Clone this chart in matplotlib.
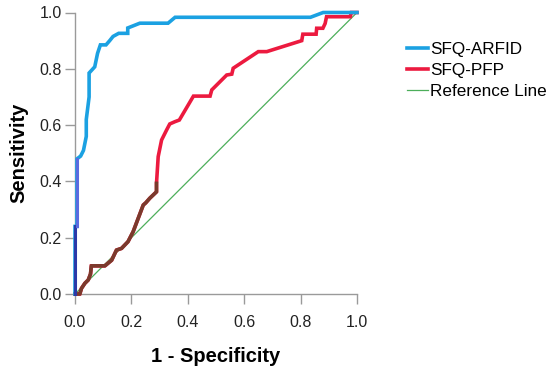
import matplotlib
matplotlib.use("Agg")
import matplotlib.pyplot as plt

plt.rcParams['font.family'] = ['Liberation Sans', 'DejaVu Sans']

# ROC curve points (1 - specificity, sensitivity)
arfid_x = [0.0, 0.0, 0.007, 0.007, 0.02, 0.03, 0.04, 0.04, 0.05, 0.05, 0.07, 0.08, 0.09, 0.11,
           0.123, 0.135, 0.155, 0.187, 0.187, 0.23, 0.33, 0.355, 0.835, 0.88, 1.0]
arfid_y = [0.0, 0.24, 0.24, 0.48, 0.49, 0.51, 0.56, 0.62, 0.70, 0.785, 0.807, 0.855, 0.885, 0.885,
           0.90, 0.915, 0.926, 0.926, 0.945, 0.962, 0.962, 0.983, 0.983, 1.0, 1.0]

pfp_x = [0.0, 0.017, 0.023, 0.035, 0.047, 0.055, 0.058, 0.106, 0.13, 0.147, 0.165, 0.188, 0.206,
         0.242, 0.251, 0.265, 0.289, 0.289, 0.295, 0.307, 0.325, 0.336, 0.354, 0.37, 0.42, 0.479,
         0.485, 0.538, 0.556, 0.561, 0.65, 0.68, 0.804, 0.808, 0.855, 0.857, 0.879, 0.887, 0.892,
         0.976, 0.98, 1.0]
pfp_y = [0.0, 0.0, 0.02, 0.038, 0.05, 0.071, 0.10, 0.10, 0.12, 0.156, 0.162, 0.186, 0.221,
         0.316, 0.324, 0.34, 0.363, 0.393, 0.488, 0.547, 0.583, 0.604, 0.612, 0.618, 0.703, 0.703,
         0.725, 0.778, 0.781, 0.802, 0.861, 0.861, 0.90, 0.923, 0.923, 0.944, 0.944, 0.961, 0.985,
         0.985, 1.0, 1.0]

ref_x = [0.0, 1.0]
ref_y = [0.0, 1.0]

ticks = [0.0, 0.2, 0.4, 0.6, 0.8, 1.0]
tick_labels = ["0.0", "0.2", "0.4", "0.6", "0.8", "1.0"]

blue = '#1ba1e2'
red = '#ec1a3f'
green = '#4cae5a'
brown = '#7a3a2c'

fig = plt.figure(figsize=(5.5, 3.69), dpi=100)
ax = fig.add_axes([75/550, 1 - 294/369, 282/550, 281.5/369])

ax.plot(ref_x, ref_y, color=green, lw=0.9, label='Reference Line', zorder=2)
ax.plot(pfp_x, pfp_y, color=red, lw=2.6, label='SFQ-PFP', zorder=3, clip_on=False,
        solid_joinstyle='miter')
# darker overlapping portion of the lower segment
n_b = 18
ax.plot(pfp_x[:n_b], pfp_y[:n_b], color=brown, lw=2.6, zorder=3.5, clip_on=False)
ax.plot(arfid_x, arfid_y, color=blue, lw=2.6, label='SFQ-ARFID', zorder=4, clip_on=False,
        solid_joinstyle='miter')
ax.plot(arfid_x[:2], arfid_y[:2], color='#2b3aa8', lw=2.2, zorder=4.5, clip_on=False)
ax.plot(arfid_x[2:4], arfid_y[2:4], color='#5a6be0', lw=2.2, zorder=4.5, clip_on=False)

ax.set_xlim(0, 1)
ax.set_ylim(0, 1)
ax.set_xticks(ticks)
ax.set_xticklabels(tick_labels)
ax.set_yticks(ticks)
ax.set_yticklabels(tick_labels)

for s in ['top', 'right']:
    ax.spines[s].set_visible(False)
for s in ['left', 'bottom']:
    ax.spines[s].set_color('#9a9a9a')
    ax.spines[s].set_linewidth(1.0)
ax.tick_params(axis='both', colors='#9a9a9a', labelcolor='#222222', length=7.5, width=1.0,
               labelsize=11.5)
ax.tick_params(axis='x', pad=7.5)
ax.tick_params(axis='y', pad=2)

ax.set_xlabel('1 - Specificity', fontsize=14.5, fontweight='bold', labelpad=12)
ax.set_ylabel('Sensitivity', fontsize=14.5, fontweight='bold', labelpad=8)

handles, labels = ax.get_legend_handles_labels()
order = [2, 1, 0]
leg = fig.legend([handles[i] for i in order], [labels[i] for i in order],
                 loc='upper left', bbox_to_anchor=(400/550, 1 - 35/369),
                 frameon=False, fontsize=12.3, handlelength=1.25, handletextpad=0.1,
                 labelspacing=0.35, borderaxespad=0)

fig.savefig('out.png', dpi=100)
